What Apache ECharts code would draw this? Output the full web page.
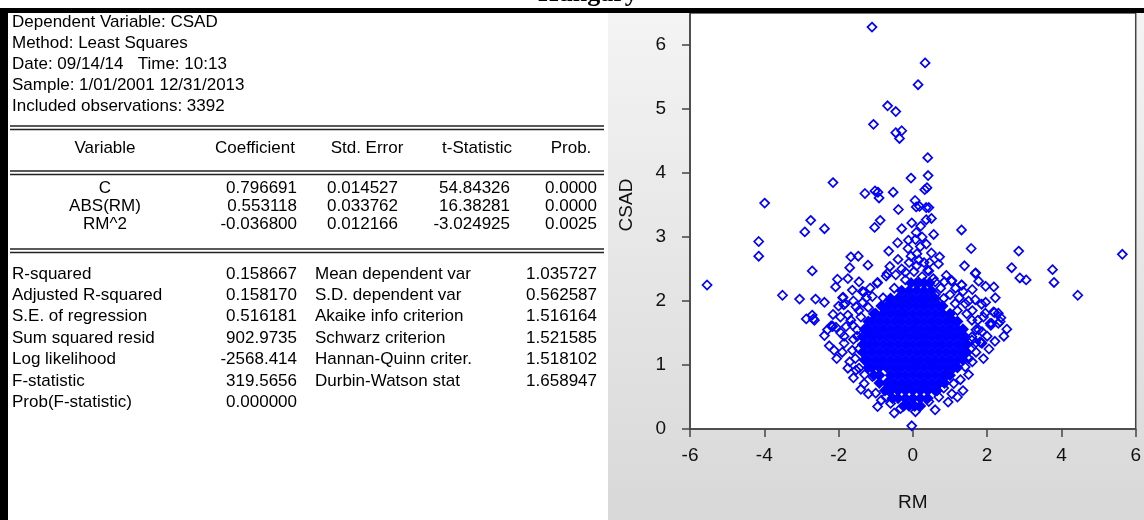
<!DOCTYPE html>
<html><head><meta charset="utf-8">
<script src="https://cdn.jsdelivr.net/npm/echarts@6/dist/echarts.min.js"></script>
<style>html,body{margin:0;padding:0;background:#fff;overflow:hidden}#c{width:1144px;height:520px}</style>
</head><body><div id="c"></div>
<script>
// ---------- regression output text ----------
const headerLines = ['Dependent Variable: CSAD','Method: Least Squares','Date: 09/14/14   Time: 10:13','Sample: 1/01/2001 12/31/2013','Included observations: 3392'];
const colHeaders = ['Variable','Coefficient','Std. Error','t-Statistic','Prob.'];
const varNames = ['C','ABS(RM)','RM^2'];
const coefs = ['0.796691','0.553118','-0.036800'];
const stdErrs = ['0.014527','0.033762','0.012166'];
const tStats = ['54.84326','16.38281','-3.024925'];
const probs = ['0.0000','0.0000','0.0025'];
const statLabelsL = ['R-squared','Adjusted R-squared','S.E. of regression','Sum squared resid','Log likelihood','F-statistic','Prob(F-statistic)'];
const statValuesL = ['0.158667','0.158170','0.516181','902.9735','-2568.414','319.5656','0.000000'];
const statLabelsR = ['Mean dependent var','S.D. dependent var','Akaike info criterion','Schwarz criterion','Hannan-Quinn criter.','Durbin-Watson stat'];
const statValuesR = ['1.035727','0.562587','1.516164','1.521585','1.518102','1.658947'];

// ---------- scatter: CSAD vs RM ----------
const xTicks = [-6,-4,-2,0,2,4,6];
const yTicks = [0,1,2,3,4,5,6];
const xName = 'RM';
const yName = 'CSAD';
const titleText = 'Hungary';

// individual (sparse) observations: [RM, CSAD]
const outliers = [
[-1.10,6.28],[0.33,5.72],[0.14,5.38],[-0.68,5.05],[-0.46,4.96],[-1.06,4.76],[-0.46,4.63],[-0.30,4.66],[-0.36,4.54],[0.40,4.24],
[-0.05,3.92],[0.41,3.96],[-2.15,3.85],[0.38,3.77],[0.32,3.74],[-3.99,3.53],[-1.29,3.68],[-1.02,3.72],[-0.94,3.70],[-0.91,3.61],
[-0.53,3.70],[0.06,3.57],[0.09,3.47],[0.18,3.48],[0.36,3.46],[0.43,3.46],[-0.39,3.43],[-2.75,3.26],[-0.88,3.26],[-0.03,3.22],
[0.36,3.27],[0.50,3.29],[0.21,3.17],[-2.91,3.08],[-2.38,3.13],[-1.03,3.15],[-0.30,3.13],[1.31,3.11],[-4.15,2.93],[-4.15,2.70],
[-5.54,2.25],[5.64,2.73],[2.85,2.78],[1.57,2.82],[2.66,2.52],[3.76,2.49],[3.80,2.29],[2.88,2.36],[3.05,2.33],[4.44,2.09],
[-3.51,2.09],[-3.05,2.03],[-2.62,2.03],[-2.38,1.98],[-2.71,2.47],[-1.67,2.69],[-1.47,2.70],[-1.21,2.56],[-1.70,2.52],[-0.65,2.78],
[-0.41,2.91],[-0.12,2.95],[-0.13,2.82],[0.09,3.07],[0.07,2.96],[0.36,2.89],[0.56,3.04],[0.11,2.74],[0.16,2.64],[0.45,2.60],
[0.72,2.69],[0.69,2.58],[0.40,2.48],[1.39,2.55],[1.69,2.44],[1.77,2.31],[1.04,2.31],[1.31,2.25],[1.60,2.18],[1.96,2.23],
[2.18,2.22],[2.22,2.05],[1.96,1.98],[2.20,1.82],[2.30,1.81],[2.37,1.74],[2.53,1.56],[2.21,1.37],[2.10,1.62],[1.84,1.35],
[-2.03,2.34],[-2.08,2.22],[-1.32,2.14],[-0.95,2.29],[-2.15,1.79],[-2.87,1.72],[-2.68,1.72],[-2.71,1.78],[-2.17,1.61],[-2.38,1.46],
[-1.89,2.05],[-1.86,1.94],[-0.62,2.54],[-0.72,2.39],
[-1.88,2.06],[-1.82,1.96],[-2.16,1.60],[-2.12,1.23],[-2.05,1.10],[-1.85,1.34],[-1.63,1.23],[-1.53,0.92],[-1.31,0.71],[-1.09,0.82],
[-1.00,0.56],[-0.73,0.50],[-0.33,0.32],[0.07,0.27],[0.43,0.43],[0.83,0.64],[1.10,0.71],[1.28,0.77],[1.41,0.97],[1.59,1.39],
[1.86,1.34],[2.30,1.65],[2.08,1.65],[1.95,1.81],[2.17,1.83],[1.68,2.02],[1.32,2.25],[1.05,2.32],[1.68,2.43],[0.83,2.04],
[1.14,1.96],[1.41,1.96],[1.59,1.70],[1.77,1.55],[-1.36,2.15],[-0.96,2.28],[-0.69,2.43],[-0.46,2.41],[-0.20,2.33],[0.03,2.46],
[0.16,2.28],[0.43,2.47],[-1.09,2.07],[-0.73,1.96],[-0.60,1.86],[-0.29,1.81],[-1.53,1.91],[-1.67,1.70],[-1.94,1.50],[-2.00,1.92],
[-2.65,1.70],[-2.20,1.61],[-2.07,1.59],[-1.63,2.17],[2.35,1.68],[2.12,1.65],[1.81,1.36],[1.59,1.44],[1.86,1.52],[-0.03,0.05],
[1.50,1.10],[1.55,1.25],[1.70,1.20],[1.45,1.80],[1.25,2.05],[1.50,2.00],[1.20,1.85],[1.00,2.10],[0.75,2.20],[0.60,2.30],
[0.90,2.40],[-0.80,2.05],[-1.20,1.90],[-1.40,1.75],[-1.50,1.55],[-1.60,1.40],[-1.55,1.10],[-1.45,0.95],[-1.30,0.85],[-1.70,1.05],
[-1.80,1.60],[-1.35,1.98],[-0.50,2.20],[-0.30,2.50],[0.25,2.38],[0.60,2.10],[1.05,0.55],[0.70,0.50],[-0.60,0.40],[-0.85,0.45],
[-1.45,1.25],[-1.50,1.45],[-1.62,1.62],[-1.75,1.78],[-1.45,1.85],[-1.60,2.00],[-1.25,2.05],[-1.15,2.20],[-1.45,2.30],[-1.75,2.35],
[-1.90,1.20],[-1.75,0.95],[-1.60,0.80],[-1.40,0.62],[-1.20,0.55],[-0.95,0.35],[-0.50,0.25],[-1.95,1.75],[-2.30,1.55],[-2.25,1.30],
[-1.85,1.45],[1.50,0.85],[1.35,0.60],[1.20,0.50],[0.95,0.42],[0.60,0.30],[1.60,1.05],[1.70,1.55],[1.75,1.70],[1.60,1.85],
[1.85,1.95],[1.90,1.75],[2.00,1.45],[2.05,1.25],[1.70,1.35],[1.35,2.15],[1.15,2.20],[0.85,2.30],[2.45,1.45],[1.90,1.10],
[0.10,2.55],[0.30,2.60],[-0.10,2.60],[0.20,2.85],[-0.05,2.70],[0.50,2.75],[0.25,3.00],[-0.20,2.45],[0.55,2.35],[-0.40,2.65]
];

// the dense core of overlapping observations, read row by row: CSAD level and the RM positions in that row
const coreY = [0.36,0.48,0.60,0.72,0.84,0.96,1.08,1.20,1.32,1.44,1.56,1.68,1.80,1.92,2.04,2.16,2.28];
const coreX = [
[-0.25,-0.1,0.05,0.2],
[-0.55,-0.4,-0.2,0.0,0.2,0.4],
[-0.75,-0.6,-0.4,-0.2,0.0,0.2,0.4,0.6,0.65],
[-0.9,-0.7,-0.5,-0.3,-0.1,0.1,0.3,0.5,0.7,0.85],
[-1.05,-0.9,-0.6,-0.4,-0.2,0.0,0.2,0.4,0.6,0.8,0.9,1.0],
[-1.2,-1.1,-0.9,-0.7,-0.5,-0.3,-0.1,0.1,0.3,0.5,0.7,0.9,1.1,1.2],
[-1.3,-1.2,-1.0,-0.8,-0.6,-0.4,-0.2,0.0,0.2,0.4,0.6,0.8,1.0,1.2,1.35],
[-1.35,-1.3,-1.1,-0.9,-0.7,-0.5,-0.3,-0.1,0.1,0.3,0.5,0.7,0.9,1.1,1.3,1.45],
[-1.35,-1.2,-1.0,-0.8,-0.6,-0.4,-0.2,0.0,0.2,0.4,0.6,0.8,1.0,1.2,1.4,1.45],
[-1.35,-1.3,-1.1,-0.9,-0.7,-0.5,-0.3,-0.1,0.1,0.3,0.5,0.7,0.9,1.1,1.3,1.4],
[-1.3,-1.2,-1.0,-0.8,-0.6,-0.4,-0.2,0.0,0.2,0.4,0.6,0.8,1.0,1.2,1.35],
[-1.2,-1.1,-0.9,-0.7,-0.5,-0.3,-0.1,0.1,0.3,0.5,0.7,0.9,1.1,1.2],
[-1.05,-1.0,-0.8,-0.6,-0.4,-0.2,0.0,0.2,0.4,0.6,0.8,1.0],
[-0.85,-0.7,-0.5,-0.3,-0.1,0.1,0.3,0.5,0.7,0.8],
[-0.6,-0.4,-0.2,0.0,0.2,0.4,0.6],
[-0.3,-0.1,0.1,0.3,0.5],
[-0.05,0.1,0.3,0.45]
];

const coreData = [];
coreY.forEach((y,i)=>coreX[i].forEach(x=>coreData.push([x,y])));

const FONT = '"Liberation Sans", Arial, sans-serif';
const TF = '17px ' + FONT;
const graphics = [];
function txt(s,x,y,align){
  graphics.push({type:'text',x:x,y:y,z:50,silent:true,
    style:{text:s,fill:'#000',font:TF,textAlign:align,align:align,textVerticalAlign:'middle',verticalAlign:'middle'}});
}
function rule(y){
  [0,3.5].forEach(d=>graphics.push({type:'line',z:50,silent:true,shape:{x1:10,y1:y+d,x2:604,y2:y+d},style:{stroke:'#222',lineWidth:1.5}}));
}
// panels
graphics.push({type:'rect',z:-5,silent:true,shape:{x:8,y:8,width:600,height:512},style:{fill:'#fff'}});
graphics.push({type:'rect',z:-5,silent:true,shape:{x:608,y:8,width:536,height:512},
  style:{fill:new echarts.graphic.LinearGradient(0,0,0,1,[{offset:0,color:'#f4f4f4'},{offset:1,color:'#d8d8d8'}])}});
// frame bars
graphics.push({type:'rect',z:100,silent:true,shape:{x:0,y:8,width:1144,height:5},style:{fill:'#000'}});
graphics.push({type:'rect',z:100,silent:true,shape:{x:0,y:8,width:8,height:512},style:{fill:'#000'}});
// title fragment
graphics.push({type:'text',x:588,y:7,z:99,silent:true,style:{text:titleText,fill:'#000',font:'bold 26px "Liberation Serif", serif',textAlign:'center',align:'center',textVerticalAlign:'bottom',verticalAlign:'bottom'}});

headerLines.forEach((s,i)=>txt(s,12,22+i*21,'left'));
rule(126);
const colC = [105,255,367,477,571];
colHeaders.forEach((s,i)=>txt(s,colC[i],148,'center'));
rule(171);
varNames.forEach((s,i)=>{
  const y = 188+i*18;
  txt(s,105,y,'center');
  txt(coefs[i],297,y,'right');
  txt(stdErrs[i],398,y,'right');
  txt(tStats[i],510,y,'right');
  txt(probs[i],597,y,'right');
});
rule(249);
statLabelsL.forEach((s,i)=>{
  const y = 274+i*21.4;
  txt(s,12,y,'left');
  txt(statValuesL[i],297,y,'right');
  if (i < statLabelsR.length){ txt(statLabelsR[i],315,y,'left'); txt(statValuesR[i],597,y,'right'); }
});
// y axis name
graphics.push({type:'text',x:627,y:205,rotation:Math.PI/2,z:50,silent:true,
  style:{text:yName,fill:'#111',font:'19px '+FONT,textAlign:'center',align:'center',textVerticalAlign:'middle',verticalAlign:'middle'}});

const axisCol = '#444';
const chart = echarts.init(document.getElementById('c'),null,{renderer:'canvas'});
chart.setOption({
  animation:false,
  backgroundColor:'transparent',
  grid:{left:690,top:13,width:448,height:416,show:true,backgroundColor:'#fff',borderColor:axisCol,borderWidth:1.5,containLabel:false},
  xAxis:{type:'value',min:xTicks[0],max:xTicks[xTicks.length-1],interval:2,
    name:xName,nameLocation:'middle',nameGap:64,nameTextStyle:{fontFamily:FONT,fontSize:19,color:'#111'},
    axisLine:{show:true,onZero:false,lineStyle:{color:axisCol,width:1.5}},
    axisTick:{show:true,length:8,lineStyle:{color:axisCol,width:1.5}},
    axisLabel:{margin:17,fontFamily:FONT,fontSize:19,color:'#111',showMinLabel:true,showMaxLabel:true},
    splitLine:{show:false}},
  yAxis:{type:'value',min:0,max:6.5,interval:1,
    axisLine:{show:true,onZero:false,lineStyle:{color:axisCol,width:1.5}},
    axisTick:{show:true,length:8,customValues:yTicks,lineStyle:{color:axisCol,width:1.5}},
    axisLabel:{margin:24,fontFamily:FONT,fontSize:19,color:'#111',customValues:yTicks},
    splitLine:{show:false}},
  graphic:{elements:graphics},
  series:[
    {type:'scatter',data:coreData,symbol:'diamond',symbolSize:12,itemStyle:{color:'#0000ff',opacity:1},silent:true,z:2},
    {type:'scatter',data:outliers,symbol:'diamond',symbolSize:9,itemStyle:{color:'rgba(0,0,0,0)',borderColor:'#0000ff',borderWidth:1.7,opacity:1},silent:true,z:3}
  ]
});
</script></body></html>
